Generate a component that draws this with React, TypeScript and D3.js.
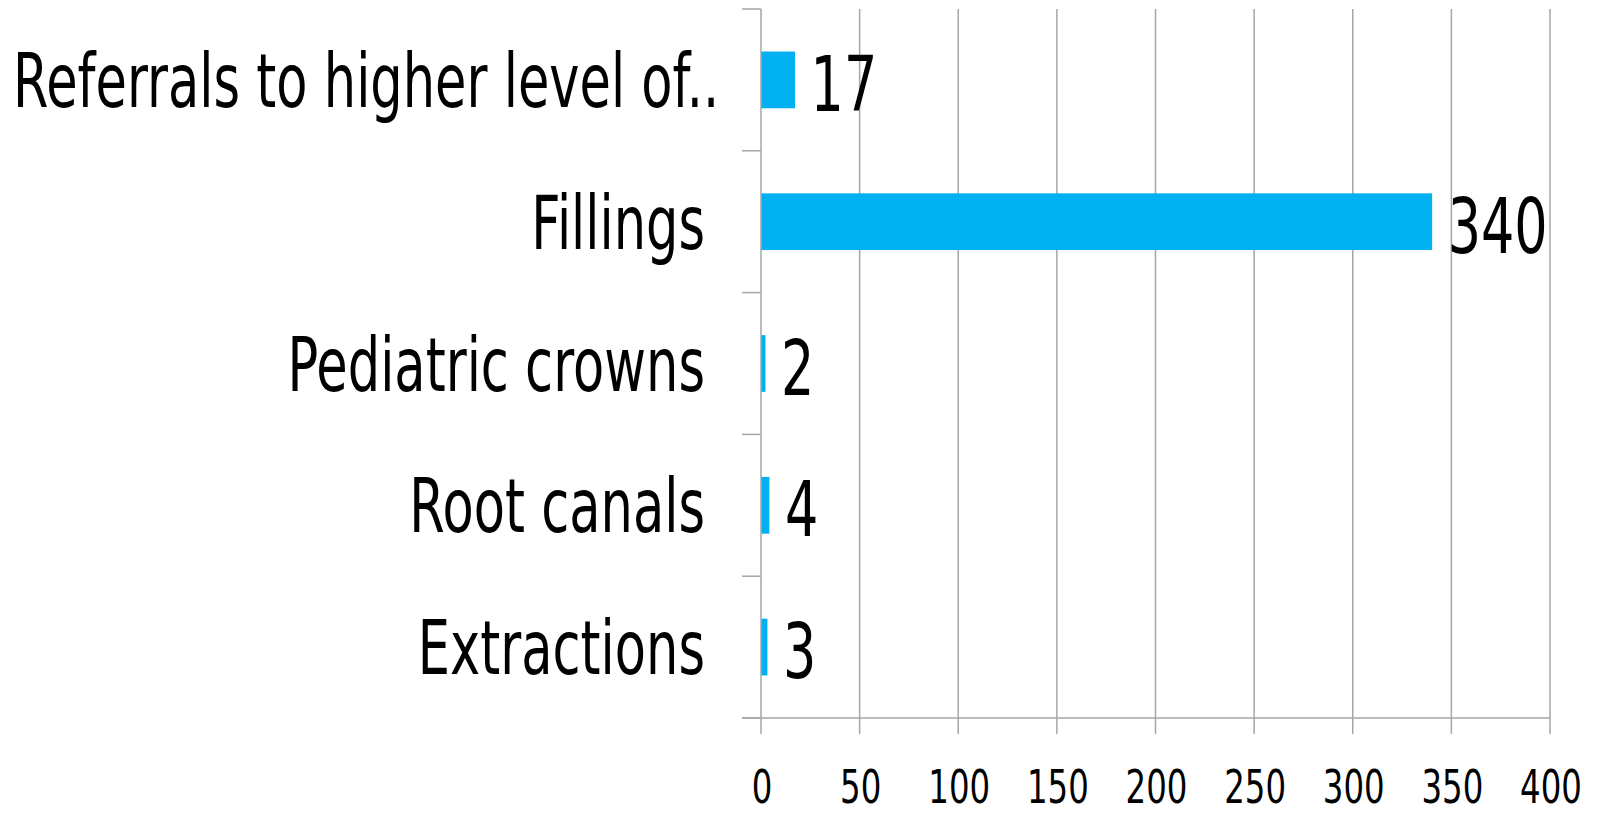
import React, { useEffect, useRef } from 'react'
import * as d3 from 'd3'

// data, top to bottom
const categories = [
  'Referrals to higher level of..',
  'Fillings',
  'Pediatric crowns',
  'Root canals',
  'Extractions',
]
const counts = [17, 340, 2, 4, 3]
const xTicks = [0, 50, 100, 150, 200, 250, 300, 350, 400]

const W = 1600
const H = 814
const FONT = '"DejaVu Sans", Verdana, sans-serif'
const SQUEEZE = 0.69 // text in the source is horizontally condensed

export default function App() {
  const ref = useRef<SVGSVGElement>(null)

  useEffect(() => {
    const svg = d3.select(ref.current)
    svg.selectAll('*').remove()

    const x0 = 761, x1 = 1550
    const y0 = 9, y1 = 718

    const x = d3.scaleLinear().domain([0, 400]).range([x0, x1])
    const y = d3.scaleBand<string>()
      .domain(categories)
      .range([y0, y1])
      .paddingInner(0.6)
      .paddingOuter(0.3)

    const step = y.step()
    const grid = '#a6a6a6'

    // vertical grid lines
    svg.append('g')
      .selectAll('line')
      .data(xTicks.slice(1))
      .join('line')
      .attr('x1', d => x(d)).attr('x2', d => x(d))
      .attr('y1', y0).attr('y2', y1)
      .attr('stroke', grid).attr('stroke-width', 1.5)

    // y axis line + category ticks
    svg.append('line')
      .attr('x1', x0).attr('x2', x0).attr('y1', y0).attr('y2', y1)
      .attr('stroke', grid).attr('stroke-width', 1.5)
    const bounds = d3.range(categories.length + 1).map(i => y0 + i * step)
    svg.append('g')
      .selectAll('line')
      .data(bounds)
      .join('line')
      .attr('x1', 742).attr('x2', x0)
      .attr('y1', d => d).attr('y2', d => d)
      .attr('stroke', grid).attr('stroke-width', 1.5)

    // x axis line + ticks
    svg.append('line')
      .attr('x1', 742).attr('x2', x1).attr('y1', y1).attr('y2', y1)
      .attr('stroke', grid).attr('stroke-width', 1.5)
    svg.append('g')
      .selectAll('line')
      .data(xTicks)
      .join('line')
      .attr('x1', d => x(d)).attr('x2', d => x(d))
      .attr('y1', y1).attr('y2', y1 + 16)
      .attr('stroke', grid).attr('stroke-width', 1.5)

    svg.append('g')
      .selectAll('text')
      .data(xTicks)
      .join('text')
      .attr('transform', d => `translate(${x(d) + 1},803) scale(${SQUEEZE},1)`)
      .attr('text-anchor', 'middle')
      .attr('font-family', FONT)
      .attr('font-size', 47)
      .attr('fill', '#000')
      .text(d => d)

    // bars
    svg.append('g')
      .selectAll('rect')
      .data(counts)
      .join('rect')
      .attr('x', x0 + 0.5)
      .attr('y', (_, i) => y(categories[i])!)
      .attr('width', d => x(d) - x0)
      .attr('height', y.bandwidth())
      .attr('fill', '#00b0f0')

    // value labels
    svg.append('g')
      .selectAll('text')
      .data(counts)
      .join('text')
      .attr('transform', (d, i) =>
        `translate(${x(d) + 16},${y(categories[i])! + y.bandwidth() / 2 + 31}) scale(${SQUEEZE},1)`)
      .attr('font-family', FONT)
      .attr('font-size', 76)
      .attr('fill', '#000')
      .text(d => d)

    // category labels (truncated one is laid out from the left edge)
    svg.append('g')
      .selectAll('text')
      .data(categories)
      .join('text')
      .attr('transform', d => {
        const cy = y(d)! + y.bandwidth() / 2 + 27
        return d.endsWith('..')
          ? `translate(13,${cy}) scale(${SQUEEZE},1)`
          : `translate(705,${cy}) scale(${SQUEEZE},1)`
      })
      .attr('text-anchor', d => (d.endsWith('..') ? 'start' : 'end'))
      .attr('font-family', FONT)
      .attr('font-size', 74)
      .attr('fill', '#000')
      .text(d => d)
  }, [])

  return (
    <svg
      ref={ref}
      width={W}
      height={H}
      style={{ position: 'absolute', left: 0, top: 0, background: '#fff' }}
    />
  )
}
